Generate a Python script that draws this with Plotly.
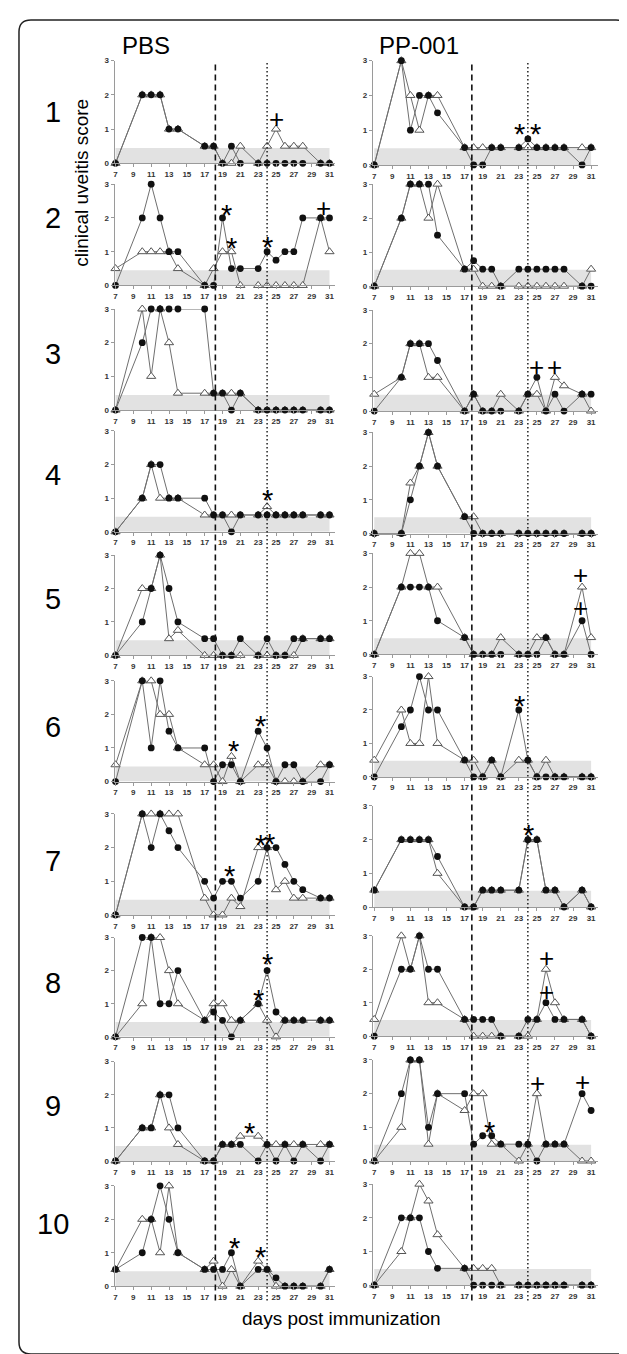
import plotly.graph_objects as go

# ---------------- data ----------------
days = [7, 10, 11, 12, 13, 14, 17, 18, 19, 20, 21, 23, 24, 25, 26, 27, 28, 30, 31]
x_tick_vals = [7, 9, 11, 13, 15, 17, 19, 21, 23, 25, 27, 29, 31]
y_tick_vals = [0, 1, 2, 3]
col_titles = ["PBS", "PP-001"]
row_labels = ["1", "2", "3", "4", "5", "6", "7", "8", "9", "10"]
x_title = "days post immunization"
y_title = "clinical uveitis score"

# PBS column (circle = filled, triangle = open)
pbs1_circle = [0, 2, 2, 2, 1, 1, 0.5, 0.5, 0, 0.5, 0, 0, 0, 0, 0, 0, 0, 0, 0]
pbs1_triangle = [0, 2, 2, 2, 1, 1, 0.5, 0.5, 0, 0, 0.5, 0, 0.5, 1, 0.5, 0.5, 0.5, 0, 0]
pbs2_circle = [0, 2, 3, 2, 1, 1, 0, 0, 2, 0.5, 0.5, 0.5, 1, 0.75, 1, 1, 2, 2, 2]
pbs2_triangle = [0.5, 1, 1, 1, 1, 0.5, 0, 0.5, 1, 1, 0, 0, 0, 0, 0, 0, 0, 2, 1]
pbs3_circle = [0, 2, 3, 3, 3, 3, 3, 0.5, 0.5, 0, 0.5, 0, 0, 0, 0, 0, 0, 0, 0]
pbs3_triangle = [0, 3, 1, 3, 2, 0.5, 0.5, 0.5, 0.5, 0.5, 0.5, 0, 0, 0, 0, 0, 0, 0, 0]
pbs4_circle = [0, 1, 2, 2, 1, 1, 1, 0.5, 0.5, 0, 0.5, 0.5, 0.5, 0.5, 0.5, 0.5, 0.5, 0.5, 0.5]
pbs4_triangle = [0, 1, 2, 1, 1, 1, 0.5, 0.5, 0.5, 0.5, 0.5, 0.5, 0.75, 0.5, 0.5, 0.5, 0.5, 0.5, 0.5]
pbs5_circle = [0, 1, 2, 3, 2, 1, 0.5, 0.5, 0, 0, 0.5, 0, 0.5, 0, 0, 0.5, 0.5, 0.5, 0.5]
pbs5_triangle = [0, 2, 2, 3, 0.5, 0.75, 0, 0, 0, 0, 0, 0, 0, 0, 0, 0, 0.5, 0.5, 0.5]
pbs6_circle = [0, 3, 1, 3, 1.5, 1, 1, 0, 0.5, 0.5, 0, 1.5, 1, 0, 0.5, 0.5, 0, 0, 0.5]
pbs6_triangle = [0.5, 3, 3, 2, 2, 1, 0.5, 0.5, 0, 0.75, 0, 0.5, 0.5, 0, 0, 0, 0, 0.5, 0.5]
pbs7_circle = [0, 3, 2, 3, 2.5, 2, 1, 0.5, 1, 1, 0.5, 1, 2, 2, 1.5, 1, 0.75, 0.5, 0.5]
pbs7_triangle = [0, 3, 3, 3, 3, 3, 0.5, 0, 0, 0.5, 0.25, 2, 2, 0.75, 1, 0.5, 0.5, 0.5, 0.5]
pbs8_circle = [0, 3, 3, 1, 1, 2, 0.5, 0.75, 0.5, 0, 0.5, 1, 2, 0.75, 0.5, 0.5, 0.5, 0.5, 0.5]
pbs8_triangle = [0, 1, 3, 3, 2, 1, 0.5, 1, 1, 0.5, 0.5, 1, 0.5, 0, 0.5, 0.5, 0.5, 0.5, 0.5]
pbs9_circle = [0, 1, 1, 2, 2, 1, 0, 0, 0.5, 0.5, 0.5, 0, 0.5, 0, 0.5, 0, 0.5, 0, 0.5]
pbs9_triangle = [0, 1, 1, 2, 1, 0.5, 0, 0, 0.5, 0.5, 0.75, 0.75, 0.5, 0.5, 0.5, 0.5, 0.5, 0.5, 0.5]
pbs10_circle = [0.5, 1, 2, 3, 2, 1, 0.5, 0.5, 0.5, 1, 0, 0.5, 0.5, 0.25, 0, 0, 0, 0, 0.5]
pbs10_triangle = [0.5, 2, 2, 1, 3, 1, 0.5, 0.75, 0, 0.5, 0, 0.75, 0.5, 0, 0, 0, 0, 0, 0.5]

# PP-001 column
pp1_circle = [0, 3, 1, 2, 2, 1.5, 0.5, 0, 0, 0.5, 0.5, 0.5, 0.75, 0.5, 0.5, 0.5, 0.5, 0, 0.5]
pp1_triangle = [0, 3, 2, 1, 2, 2, 0.5, 0.5, 0.5, 0.5, 0.5, 0.5, 0.5, 0.5, 0.5, 0.5, 0.5, 0.5, 0.5]
pp2_circle = [0, 2, 3, 3, 3, 1.5, 0.5, 0.75, 0.5, 0.5, 0, 0.5, 0.5, 0.5, 0.5, 0.5, 0.5, 0, 0]
pp2_triangle = [0, 2, 3, 3, 2, 3, 0.5, 0.5, 0, 0, 0, 0, 0, 0, 0, 0, 0, 0, 0.5]
pp3_circle = [0, 1, 2, 2, 2, 1.5, 0, 0.5, 0, 0, 0, 0, 0.5, 1, 0, 0.5, 0, 0.5, 0.5]
pp3_triangle = [0.5, 1, 2, 2, 1, 1, 0, 0.5, 0, 0, 0.5, 0, 0.5, 0.5, 0, 1, 0.75, 0.5, 0]
pp4_circle = [0, 0, 1, 2, 3, 2, 0.5, 0, 0, 0, 0, 0, 0, 0, 0, 0, 0, 0, 0]
pp4_triangle = [0, 0, 1.5, 2, 3, 2, 0.5, 0.5, 0, 0, 0, 0, 0, 0, 0, 0, 0, 0, 0]
pp5_circle = [0, 2, 2, 2, 2, 1, 0.5, 0, 0, 0, 0, 0, 0, 0, 0.5, 0, 0, 1, 0]
pp5_triangle = [0, 2, 3, 3, 2, 2, 0.5, 0, 0, 0, 0.5, 0, 0, 0.5, 0.5, 0, 0, 2, 0.5]
pp6_circle = [0, 1.5, 2, 3, 2, 2, 0.5, 0, 0, 0.5, 0, 2, 0.5, 0, 0, 0, 0, 0, 0]
pp6_triangle = [0.5, 2, 1, 1, 3, 1, 0.5, 0.5, 0, 0.5, 0, 0.5, 0.5, 0, 0.5, 0, 0, 0, 0]
pp7_circle = [0.5, 2, 2, 2, 2, 1.5, 0, 0, 0.5, 0.5, 0.5, 0.5, 2, 2, 0.5, 0.5, 0, 0.5, 0]
pp7_triangle = [0.5, 2, 2, 2, 2, 1, 0, 0, 0.5, 0.5, 0.5, 0.5, 2, 2, 0.5, 0.5, 0, 0.5, 0]
pp8_circle = [0, 2, 2, 3, 2, 2, 0.5, 0.5, 0.5, 0.5, 0, 0, 0.5, 0.5, 1, 0.5, 0.5, 0.5, 0]
pp8_triangle = [0.5, 3, 2, 3, 1, 1, 0.5, 0, 0, 0, 0, 0, 0, 0.5, 2, 1, 0.5, 0.5, 0]
pp9_circle = [0, 2, 3, 3, 1, 2, 2, 0.5, 0.75, 0.75, 0.5, 0.5, 0.5, 0, 0.5, 0.5, 0.5, 2, 1.5]
pp9_triangle = [0, 1, 3, 3, 0.5, 2, 1.5, 2, 2, 0.5, 0.5, 0, 0.5, 2, 0.5, 0.5, 0.5, 0, 0]
pp10_circle = [0, 2, 2, 2, 1, 0.5, 0.5, 0, 0, 0, 0, 0, 0, 0, 0, 0, 0, 0, 0]
pp10_triangle = [0, 1, 2, 3, 2.5, 1.5, 0.5, 0.5, 0.5, 0.5, 0, 0, 0, 0, 0, 0, 0, 0, 0]

# significance marks: (symbol, day, score)
pbs1_marks = [("+", 25.0, 1.3)]
pbs2_marks = [("*", 19.4, 2.3), ("*", 20.0, 1.33), ("*", 24.0, 1.35), ("+", 30.3, 2.3)]
pbs3_marks = []
pbs4_marks = [("*", 24.1, 1.15)]
pbs5_marks = []
pbs6_marks = [("*", 20.2, 1.12), ("*", 23.3, 1.87)]
pbs7_marks = [("*", 19.8, 1.37), ("*", 23.3, 2.28), ("*", 24.3, 2.31)]
pbs8_marks = [("*", 23.0, 1.33), ("*", 24.1, 2.4)]
pbs9_marks = [("*", 22.0, 1.05)]
pbs10_marks = [("*", 20.3, 1.35), ("*", 23.3, 1.09)]
pp1_marks = [("*", 23.1, 1.1), ("*", 24.9, 1.1)]
pp2_marks = []
pp3_marks = [("+", 25.0, 1.32), ("+", 27.0, 1.32)]
pp4_marks = []
pp5_marks = [("+", 29.8, 2.36), ("+", 29.8, 1.38)]
pp6_marks = [("*", 23.1, 2.33)]
pp7_marks = [("*", 24.05, 2.36)]
pp8_marks = [("+", 26.1, 2.35), ("+", 26.1, 1.32)]
pp9_marks = [("*", 19.75, 1.08), ("+", 25.1, 2.31), ("+", 30.0, 2.34)]
pp10_marks = []

dashed_day = [18.2, 17.8]   # end of treatment line per column
dotted_day = [24, 24]
band_top = [0.45, 0.48]     # grey normal-range band

pbs_circles = [pbs1_circle, pbs2_circle, pbs3_circle, pbs4_circle, pbs5_circle,
               pbs6_circle, pbs7_circle, pbs8_circle, pbs9_circle, pbs10_circle]
pbs_triangles = [pbs1_triangle, pbs2_triangle, pbs3_triangle, pbs4_triangle, pbs5_triangle,
                 pbs6_triangle, pbs7_triangle, pbs8_triangle, pbs9_triangle, pbs10_triangle]
pp_circles = [pp1_circle, pp2_circle, pp3_circle, pp4_circle, pp5_circle,
              pp6_circle, pp7_circle, pp8_circle, pp9_circle, pp10_circle]
pp_triangles = [pp1_triangle, pp2_triangle, pp3_triangle, pp4_triangle, pp5_triangle,
                pp6_triangle, pp7_triangle, pp8_triangle, pp9_triangle, pp10_triangle]
pbs_marks = [pbs1_marks, pbs2_marks, pbs3_marks, pbs4_marks, pbs5_marks,
             pbs6_marks, pbs7_marks, pbs8_marks, pbs9_marks, pbs10_marks]
pp_marks = [pp1_marks, pp2_marks, pp3_marks, pp4_marks, pp5_marks,
            pp6_marks, pp7_marks, pp8_marks, pp9_marks, pp10_marks]

# ---------------- layout geometry (pixels) ----------------
W, H = 627, 1354
col_x_px = [(105.7, 327.0), (364.3, 590.0)]
col_range = [(6.89, 31.67), (6.83, 31.77)]
tops = [[49, 173.3, 299, 421.7, 546.7, 673.3, 807.3, 931.7, 1056.7, 1181.7],
        [49, 173.3, 300, 423.3, 545, 669, 799.3, 930, 1055, 1180]]
bottoms = [[152.3, 275.3, 400.7, 523.3, 647.7, 774.7, 909, 1031.7, 1156.7, 1282.7],
           [154, 276, 401.7, 525, 646.7, 770, 901, 1031, 1156.7, 1281.7]]
row_label_y = [101, 207, 344, 466, 591, 720, 855, 978, 1101, 1220]


def px(xpix):
    return xpix / W


def py(ypix):
    return 1 - ypix / H


FONT = "Liberation Sans"
LINE_COL = "#6f6f6f"
AXIS_COL = "#9a9a9a"

fig = go.Figure()
layout = dict(width=W, height=H, margin=dict(l=0, r=0, t=0, b=0),
              paper_bgcolor="white", plot_bgcolor="white", showlegend=False,
              font=dict(family=FONT, color="black"))
shapes = []
annotations = []

for c in range(2):
    circles = pbs_circles if c == 0 else pp_circles
    triangles = pbs_triangles if c == 0 else pp_triangles
    marks = pbs_marks if c == 0 else pp_marks
    for r in range(10):
        n = r * 2 + c + 1
        xs = "x" if n == 1 else f"x{n}"
        ys = "y" if n == 1 else f"y{n}"
        xa = "xaxis" if n == 1 else f"xaxis{n}"
        ya = "yaxis" if n == 1 else f"yaxis{n}"
        layout[xa] = dict(
            domain=[px(col_x_px[c][0]), px(col_x_px[c][1])], range=list(col_range[c]),
            anchor=ys, tickvals=x_tick_vals, ticks="outside", ticklen=3, tickwidth=1,
            tickcolor=AXIS_COL, showline=True, linecolor=AXIS_COL, linewidth=1,
            showgrid=False, zeroline=False, fixedrange=True,
            tickfont=dict(size=8, color="#333333", family=FONT, weight="bold"))
        layout[ya] = dict(
            domain=[py(bottoms[c][r]), py(tops[c][r])], range=[0, 3],
            anchor=xs, tickvals=y_tick_vals, ticks="outside", ticklen=3, tickwidth=1,
            tickcolor=AXIS_COL, showline=True, linecolor=AXIS_COL, linewidth=1,
            showgrid=False, zeroline=False, fixedrange=True,
            tickfont=dict(size=8, color="#333333", family=FONT, weight="bold"))
        # grey band
        shapes.append(dict(type="rect", xref=xs, yref=ys, x0=7, x1=31, y0=0, y1=band_top[c],
                           fillcolor="#e2e2e2", line=dict(width=0), layer="below"))
        fig.add_trace(go.Scatter(
            x=days, y=triangles[r], xaxis=xs, yaxis=ys, mode="lines+markers",
            line=dict(color=LINE_COL, width=1), cliponaxis=False,
            marker=dict(symbol="triangle-up", size=8, color="white",
                        line=dict(color="#555555", width=1))))
        fig.add_trace(go.Scatter(
            x=days, y=circles[r], xaxis=xs, yaxis=ys, mode="lines+markers",
            line=dict(color=LINE_COL, width=1), cliponaxis=False,
            marker=dict(symbol="circle", size=6.8, color="#111111", line=dict(width=0))))
        for sym, d, s in marks[r]:
            annotations.append(dict(
                text=sym, x=d, y=s, xref=xs, yref=ys, showarrow=False,
                xanchor="center", yanchor="middle",
                yshift=-7 if sym == "*" else 0,
                font=dict(size=29 if sym == "*" else 26, color="black", family=FONT)))

    ref_x = "x" if c == 0 else "x2"
    shapes.append(dict(type="line", xref=ref_x, yref="paper", x0=dashed_day[c], x1=dashed_day[c],
                       y0=py(1297), y1=py(50), line=dict(color="#111111", width=1.6, dash="6px,4px")))
    shapes.append(dict(type="line", xref=ref_x, yref="paper", x0=dotted_day[c], x1=dotted_day[c],
                       y0=py(1297), y1=py(50), line=dict(color="#111111", width=1.4, dash="1.4px,2.6px")))

# column titles
annotations.append(dict(text=col_titles[0], x=px(111), y=py(34), xref="paper", yref="paper",
                        xanchor="left", yanchor="middle", showarrow=False,
                        font=dict(size=24, family=FONT, color="black")))
annotations.append(dict(text=col_titles[1], x=px(369), y=py(34), xref="paper", yref="paper",
                        xanchor="left", yanchor="middle", showarrow=False,
                        font=dict(size=24, family=FONT, color="black")))
# row labels
for r in range(10):
    annotations.append(dict(text=row_labels[r], x=px(44), y=py(row_label_y[r]), xref="paper",
                            yref="paper", xanchor="center", yanchor="middle", showarrow=False,
                            font=dict(size=29, family=FONT, color="black")))
# axis titles
annotations.append(dict(text=y_title, x=px(73), y=py(172), xref="paper", yref="paper",
                        xanchor="center", yanchor="middle", textangle=-90, showarrow=False,
                        font=dict(size=19, family=FONT, color="black")))
annotations.append(dict(text=x_title, x=px(333), y=py(1315), xref="paper", yref="paper",
                        xanchor="center", yanchor="middle", showarrow=False,
                        font=dict(size=19, family=FONT, color="black")))

# rounded frame
x0, x1, y0, y1, rr = 10, 620, 8, 1351, 12
path = (f"M {px(x0 + rr)},{py(y0)} L {px(x1 - rr)},{py(y0)} Q {px(x1)},{py(y0)} {px(x1)},{py(y0 + rr)} "
        f"L {px(x1)},{py(y1 - rr)} Q {px(x1)},{py(y1)} {px(x1 - rr)},{py(y1)} "
        f"L {px(x0 + rr)},{py(y1)} Q {px(x0)},{py(y1)} {px(x0)},{py(y1 - rr)} "
        f"L {px(x0)},{py(y0 + rr)} Q {px(x0)},{py(y0)} {px(x0 + rr)},{py(y0)} Z")
shapes.append(dict(type="path", xref="paper", yref="paper", path=path,
                   line=dict(color="#222222", width=1.5)))

layout["shapes"] = shapes
layout["annotations"] = annotations
fig.update_layout(**layout)
fig.write_html("out.html")
